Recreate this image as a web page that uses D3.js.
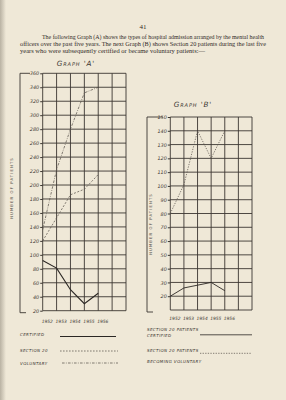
<!DOCTYPE html>
<html>
<head>
<meta charset="utf-8">
<script src="https://cdn.jsdelivr.net/npm/d3@7"></script>
<style>
body { margin: 0; background: #efe8d7; }
svg { display: block; }
</style>
</head>
<body>
<div id="page"></div>
<script>
// values
var years = [1952, 1953, 1954, 1955, 1956]
var certifiedA = [92, 81, 50, 30, 45]
var section20A = [120, 153, 186, 194, 215]
var voluntaryA = [136, 222, 280, 332, 340]
var certifiedB = [20, 26, 28, 30, 24]
var becameVoluntaryB = [80, 101, 140, 120, 140]
var ticksA = d3.range(20, 361, 20)
var ticksB = d3.range(20, 151, 10)
var yearLabels = ["1952", "1953", "1954", "1955", "1956"]

var paragraph = [
	"The following Graph (A) shows the types of hospital admission arranged by the mental health",
	"officers over the past five years.  The next Graph (B) shows Section 20 patients during the last five",
	"years who were subsequently certified or became voluntary patients:\u2014"
]

var width = 286
var height = 400
var ink = "#3b3631"
var hand = "'DejaVu Sans', sans-serif"

var svg = d3.select("#page")
	.append("svg")
	.attr("width", width)
	.attr("height", height);

// paper + binding shadow
svg.append("rect").attr("width", width).attr("height", height).attr("fill", "#efe8d7");
var grad = svg.append("defs").append("linearGradient").attr("id", "bind");
grad.append("stop").attr("offset", "0%").attr("stop-color", "#b9b2a3");
grad.append("stop").attr("offset", "100%").attr("stop-color", "#efe8d7");
svg.append("rect").attr("width", 6).attr("height", height).attr("fill", "url(#bind)");

// page number and intro text
svg.append("text")
	.attr("x", 143).attr("y", 29)
	.attr("text-anchor", "middle")
	.style("font-family", "'Liberation Serif', serif")
	.style("font-size", "7px")
	.attr("fill", "#2f2b27")
	.text("41");

var paraX = [42, 20, 20]
var paraW = [222, 246, 185]
svg.selectAll(".para")
	.data(paragraph)
	.enter()
	.append("text")
	.attr("class", "para")
	.attr("x", function (d, i) { return paraX[i]; })
	.attr("y", function (d, i) { return 38.5 + i * 7; })
	.attr("textLength", function (d, i) { return paraW[i]; })
	.attr("lengthAdjust", "spacingAndGlyphs")
	.style("font-family", "'Liberation Serif', serif")
	.style("font-size", "6.4px")
	.attr("fill", "#2f2b27")
	.text(function (d) { return d; });

function drawGraph(o) {
	var x = d3.scaleLinear().domain([1952, 1958]).range([o.left, o.right]);
	var y = d3.scaleLinear().domain(o.yDomain).range([o.bottom, o.top]);
	var g = svg.append("g");

	// grid
	g.selectAll(".vline")
		.data(d3.range(1952, 1959))
		.enter()
		.append("line")
		.attr("x1", function (d) { return x(d); })
		.attr("x2", function (d) { return x(d); })
		.attr("y1", o.top)
		.attr("y2", o.bottom)
		.attr("stroke", ink)
		.attr("stroke-width", 0.9);

	g.selectAll(".hline")
		.data(o.grid)
		.enter()
		.append("line")
		.attr("x1", o.left)
		.attr("x2", o.right)
		.attr("y1", function (d) { return y(d); })
		.attr("y2", function (d) { return y(d); })
		.attr("stroke", ink)
		.attr("stroke-width", 0.9);

	// y axis labels
	var axis = g.append("g")
		.attr("transform", "translate(" + o.left + ",0)")
		.call(d3.axisLeft(y).tickValues(o.ticks).tickSize(2.5).tickPadding(1));
	axis.select(".domain").remove();
	axis.selectAll("line").attr("stroke", ink);
	axis.selectAll("text")
		.style("font-family", hand)
		.style("font-style", "italic")
		.style("font-size", "4.9px")
		.attr("fill", ink);

	// bracket on the left and the rotated axis title
	g.append("path")
		.attr("d", "M" + (o.bx + o.topStub) + "," + o.top + "H" + o.bx + "V" + (o.bottom + 2) + "H" + (o.bx + 6))
		.attr("fill", "none")
		.attr("stroke", ink)
		.attr("stroke-width", 0.9);

	g.append("text")
		.attr("transform", "translate(" + o.titleX + "," + o.titleY + ") rotate(-90)")
		.attr("text-anchor", "middle")
		.style("font-family", hand)
		.style("font-size", "3.8px")
		.style("letter-spacing", "1.1px")
		.attr("fill", "#5a544d")
		.text("NUMBER   OF   PATIENTS");

	// year labels
	g.selectAll(".year")
		.data(yearLabels)
		.enter()
		.append("text")
		.attr("x", function (d, i) { return x(years[i]) - 1; })
		.attr("y", o.yearY)
		.style("font-family", hand)
		.style("font-style", "italic")
		.style("font-size", "4.4px")
		.attr("fill", ink)
		.text(function (d) { return d; });

	// graph heading
	g.append("text")
		.attr("x", o.headX)
		.attr("y", o.headY)
		.attr("text-anchor", "middle")
		.style("font-family", hand)
		.style("font-style", "italic")
		.style("font-variant", "small-caps")
		.style("font-size", "7.2px")
		.style("letter-spacing", "0.9px")
		.attr("fill", ink)
		.text(o.heading);

	var line = d3.line()
		.x(function (d, i) { return x(years[i]); })
		.y(function (d) { return y(d); });

	o.series.forEach(function (s) {
		g.append("path")
			.datum(s.values)
			.attr("d", line)
			.attr("fill", "none")
			.attr("stroke", s.color)
			.attr("stroke-width", s.width)
			.attr("stroke-dasharray", s.dash);
	});
}

drawGraph({
	left: 42.7, right: 126, top: 73.3, bottom: 310.7,
	yDomain: [20, 360], grid: ticksA, ticks: ticksA,
	bx: 20, topStub: 10, titleX: 13, titleY: 188,
	yearY: 322.5, headX: 76, headY: 66, heading: "Graph 'A'",
	series: [
		{ values: certifiedA, color: "#2b2724", width: 1.1, dash: null },
		{ values: section20A, color: "#5c564f", width: 0.75, dash: "2,1.6" },
		{ values: voluntaryA, color: "#5c564f", width: 0.75, dash: "2.6,1.3,0.8,1.3" }
	]
});

drawGraph({
	left: 170.3, right: 252, top: 117, bottom: 310,
	yDomain: [10, 150], grid: d3.range(10, 151, 10), ticks: ticksB,
	bx: 147, topStub: 16, titleX: 152, titleY: 224,
	yearY: 320, headX: 193, headY: 107, heading: "Graph 'B'",
	series: [
		{ values: certifiedB, color: "#2b2724", width: 0.9, dash: null },
		{ values: becameVoluntaryB, color: "#5c564f", width: 0.75, dash: "1.3,1.3" }
	]
});

// legends
var legendText = [
	{ t: "CERTIFIED", x: 20, y: 336 },
	{ t: "SECTION 20", x: 20, y: 351.5 },
	{ t: "VOLUNTARY", x: 20, y: 364.5 },
	{ t: "SECTION 20 PATIENTS", x: 147, y: 330.5 },
	{ t: "CERTIFIED", x: 147, y: 336.5 },
	{ t: "SECTION 20 PATIENTS", x: 147, y: 351.5 },
	{ t: "BECOMING VOLUNTARY", x: 147, y: 362.5 }
]
svg.selectAll(".leg")
	.data(legendText)
	.enter()
	.append("text")
	.attr("x", function (d) { return d.x; })
	.attr("y", function (d) { return d.y; })
	.style("font-family", hand)
	.style("font-style", "italic")
	.style("font-size", "4px")
	.style("letter-spacing", "0.4px")
	.attr("fill", ink)
	.text(function (d) { return d.t; });

var legendLines = [
	{ x1: 60, x2: 116, y: 336.5, dash: null, w: 1, c: "#2b2724" },
	{ x1: 60, x2: 118, y: 351, dash: "1.6,1.4", w: 0.75, c: "#5c564f" },
	{ x1: 62, x2: 118, y: 363, dash: "2.6,1.3,0.8,1.3", w: 0.75, c: "#5c564f" },
	{ x1: 200, x2: 252, y: 334.8, dash: null, w: 0.8, c: "#2b2724" },
	{ x1: 200, x2: 252, y: 353.3, dash: "1.3,1.3", w: 0.75, c: "#5c564f" }
]
svg.selectAll(".legline")
	.data(legendLines)
	.enter()
	.append("line")
	.attr("x1", function (d) { return d.x1; })
	.attr("x2", function (d) { return d.x2; })
	.attr("y1", function (d) { return d.y; })
	.attr("y2", function (d) { return d.y; })
	.attr("stroke", function (d) { return d.c; })
	.attr("stroke-width", function (d) { return d.w; })
	.attr("stroke-dasharray", function (d) { return d.dash; });
</script>
</body>
</html>
